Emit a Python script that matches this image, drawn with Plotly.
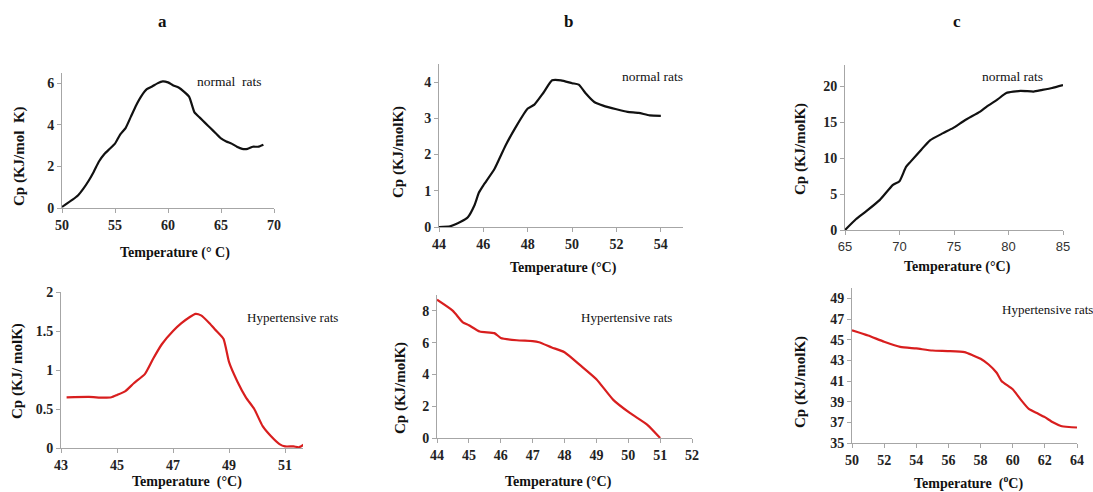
import plotly.graph_objects as go

W, H = 1093, 492

# ---------------- data ----------------
a_norm_T = [50, 51, 51.5, 52, 52.5, 53, 53.5, 54, 54.5, 55, 55.5, 56, 56.5, 57, 57.5, 58, 58.5, 59, 59.5,
            60, 60.5, 61, 61.5, 62, 62.5, 63, 63.5, 64, 64.5, 65, 65.5, 66, 66.5, 67, 67.5, 68, 68.5, 69]
a_norm_Cp = [0.05, 0.4, 0.6, 0.92, 1.3, 1.75, 2.25, 2.6, 2.85, 3.1, 3.55, 3.85, 4.4, 4.95, 5.4, 5.72, 5.85, 6.0, 6.1,
             6.05, 5.9, 5.8, 5.6, 5.35, 4.6, 4.35, 4.1, 3.85, 3.6, 3.35, 3.2, 3.1, 2.95, 2.85, 2.85, 2.95, 2.95, 3.05]

a_hyp_T = [43.2, 44, 44.5, 44.8, 45, 45.3, 45.6, 46, 46.3, 46.6, 47, 47.3, 47.6, 47.8, 48, 48.3, 48.5, 48.8,
           49, 49.3, 49.6, 49.9, 50.2, 50.5, 50.8, 51, 51.3, 51.5, 51.7]
a_hyp_Cp = [0.65, 0.655, 0.645, 0.65, 0.68, 0.73, 0.83, 0.95, 1.15, 1.33, 1.5, 1.6, 1.68, 1.72, 1.7, 1.6, 1.52, 1.4,
            1.1, 0.85, 0.65, 0.5, 0.28, 0.15, 0.05, 0.02, 0.02, 0.01, 0.05]

b_norm_T = [44.0, 44.5, 45.0, 45.3, 45.6, 45.8, 46.0, 46.5, 47.0, 47.5, 48.0, 48.3, 48.7, 49.1, 49.5, 50.0,
            50.3, 50.6, 51.0, 51.4, 52.0, 52.5, 53.0, 53.5, 54.0]
b_norm_Cp = [0.0, 0.02, 0.15, 0.27, 0.6, 0.95, 1.15, 1.6, 2.25, 2.8, 3.27, 3.38, 3.7, 4.05, 4.05, 3.97,
             3.93, 3.7, 3.45, 3.35, 3.25, 3.18, 3.15, 3.08, 3.07]

b_hyp_T = [44, 44.5, 44.8, 45, 45.34, 45.8, 46, 46.5, 47, 47.2, 47.6, 48, 48.5, 49, 49.53, 50.06, 50.6, 51]
b_hyp_Cp = [8.7, 8.0, 7.3, 7.1, 6.7, 6.6, 6.3, 6.15, 6.1, 6.03, 5.7, 5.4, 4.57, 3.7, 2.4, 1.56, 0.83, 0.0]

c_norm_T = [65, 66, 66.9, 68.2, 69.4, 70, 70.6, 71, 72, 72.8, 74, 74.9, 76, 77.4, 78, 79, 79.8, 81.1, 82.3, 83, 84, 85]
c_norm_Cp = [0, 1.5, 2.56, 4.2, 6.3, 6.8, 8.8, 9.5, 11.2, 12.5, 13.5, 14.2, 15.3, 16.5, 17.2, 18.2, 19.1, 19.4,
             19.3, 19.5, 19.8, 20.2]

c_hyp_T = [50, 51, 52, 53, 54, 55, 56, 57, 57.5, 58, 58.5, 59, 59.3, 60, 60.5, 61, 61.5, 62, 62.5, 63, 63.5, 64]
c_hyp_Cp = [45.9, 45.4, 44.8, 44.3, 44.15, 43.95, 43.9, 43.8, 43.5, 43.15, 42.6, 41.8, 41.0, 40.2, 39.2, 38.3,
            37.9, 37.5, 37.0, 36.65, 36.55, 36.5]

panel_letters = ["a", "b", "c"]

# ---------------- layout helpers ----------------
SERIF = "Liberation Serif"
AX_COLOR = "#a6a6a6"

def dx(p0, p1):
    return [p0 / W, p1 / W]

def dy(top, bottom):
    return [1 - bottom / H, 1 - top / H]

panels = [
    # (T, Cp, color, xdomain px, ydomain px, xrange, xdtick, x tick0, yrange, ydtick, y tick0, sans x ticks)
    (a_norm_T, a_norm_Cp, "#111111", (62, 274), (73, 208), [50, 70], 5, 50, [0, 6.5], 2, 0, False),
    (b_norm_T, b_norm_Cp, "#111111", (439, 683), (64, 227), [44, 55], 2, 44, [0, 4.5], 1, 0, False),
    (c_norm_T, c_norm_Cp, "#111111", (845, 1063), (65, 230), [65, 85], 5, 65, [0, 23], 5, 0, True),
    (a_hyp_T, a_hyp_Cp, "#d81e1e", (61, 303), (292, 448), [43, 51.64], 2, 43, [0, 2], 0.5, 0, False),
    (b_hyp_T, b_hyp_Cp, "#d81e1e", (437, 692), (295, 438), [44, 52], 1, 44, [0, 9], 2, 0, False),
    (c_hyp_T, c_hyp_Cp, "#d81e1e", (852, 1077), (288, 443), [50, 64], 2, 50, [35, 50], 2, 35, False),
]

fig = go.Figure()
layout = {}
for i, (T, Cp, col, xd, yd, xr, xdt, x0, yr, ydt, y0, sans) in enumerate(panels):
    n = "" if i == 0 else str(i + 1)
    fig.add_trace(go.Scatter(x=T, y=Cp, mode="lines", line=dict(color=col, width=2.2, shape="spline", smoothing=0.5),
                             xaxis="x" + n, yaxis="y" + n, showlegend=False, hoverinfo="skip"))
    tickfont_b = dict(family=SERIF, size=14, color="#222222", weight="bold")
    tickfont_x = dict(family="Liberation Sans", size=13, color="#333333") if sans else tickfont_b
    layout["xaxis" + n] = dict(domain=dx(*xd), range=xr, dtick=xdt, tick0=x0, anchor="y" + n,
                               showline=True, linecolor=AX_COLOR, linewidth=1, ticks="outside", ticklen=4,
                               tickcolor=AX_COLOR, showgrid=False, zeroline=False, tickfont=tickfont_x,
                               automargin=False)
    layout["yaxis" + n] = dict(domain=dy(*yd), range=yr, dtick=ydt, tick0=y0, anchor="x" + n,
                               showline=True, linecolor=AX_COLOR, linewidth=1, ticks="outside", ticklen=4,
                               tickcolor=AX_COLOR, showgrid=False, zeroline=False, tickfont=tickfont_b,
                               automargin=False)

annotations = []

def ann(text, x, y, size=14, bold=True, angle=0, xanchor="center"):
    annotations.append(dict(text=text, x=x / W, y=1 - y / H, xref="paper", yref="paper", showarrow=False,
                            xanchor=xanchor, yanchor="middle", textangle=angle,
                            font=dict(family=SERIF, size=size, color="#111111",
                                      weight="bold" if bold else "normal")))

# panel letters
for letter, x in zip(panel_letters, [162, 568, 957]):
    ann(letter, x, 22, size=17)

# x axis titles
ann("Temperature (° C)", 175, 253)
ann("Temperature (°C)", 563, 268)
ann("Temperature (°C)", 957, 267)
ann("Temperature  (°C)", 187, 482)
ann("Temperature (°C)", 558, 482)
ann("Temperature  (<sup>o</sup>C)", 968, 482)

# y axis titles
ann("Cp (KJ/mol  K)", 19, 156, size=15, angle=-90)
ann("Cp (KJ/molK)", 398, 152, size=15, angle=-90)
ann("Cp (KJ/molK)", 800, 149, size=15, angle=-90)
ann("Cp (KJ/ molK)", 17, 371, size=15, angle=-90)
ann("Cp (KJ/molK)", 400, 388, size=15, angle=-90)
ann("Cp (KJ/molK)", 800, 382, size=15, angle=-90)

# in-plot labels
ann("normal  rats", 229, 81, size=13.5, bold=False)
ann("normal rats", 652, 76, size=13.5, bold=False)
ann("normal rats", 1012, 76, size=13.5, bold=False)
ann("Hypertensive rats", 245, 317, size=13, bold=False, xanchor="left")
ann("Hypertensive rats", 626, 317, size=13, bold=False)
ann("Hypertensive rats", 1000, 309, size=13, bold=False, xanchor="left")

fig.update_layout(**layout)
fig.update_layout(width=W, height=H, margin=dict(l=0, r=0, t=0, b=0), paper_bgcolor="white",
                  plot_bgcolor="white", annotations=annotations, showlegend=False)

fig.write_html("out.html", config={"displayModeBar": False},
               post_script="document.body.style.margin='0';document.body.style.overflow='hidden';")
